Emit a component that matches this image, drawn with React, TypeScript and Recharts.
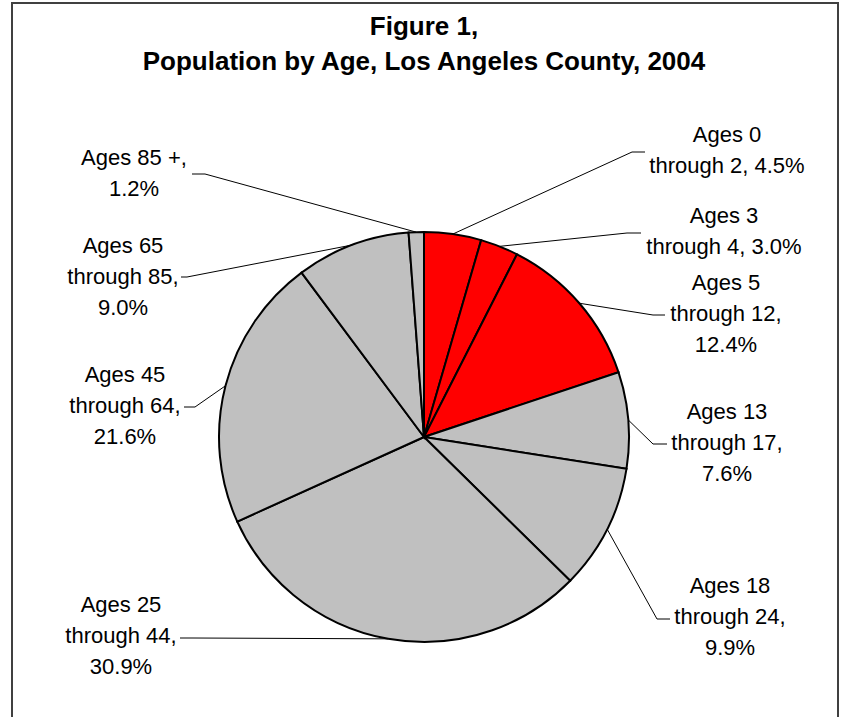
import React from "react";
import { PieChart, Pie, Cell } from "recharts";

// ---- data ----
const categories: string[] = [
  "Ages 0 through 2",
  "Ages 3 through 4",
  "Ages 5 through 12",
  "Ages 13 through 17",
  "Ages 18 through 24",
  "Ages 25 through 44",
  "Ages 45 through 64",
  "Ages 65 through 85",
  "Ages 85 +",
];
const shares: number[] = [4.5, 3.0, 12.4, 7.6, 9.9, 30.9, 21.6, 9.0, 1.2];
const labelTexts: string[][] = [
  ["Ages 0", "through 2, 4.5%"],
  ["Ages 3", "through 4, 3.0%"],
  ["Ages 5", "through 12,", "12.4%"],
  ["Ages 13", "through 17,", "7.6%"],
  ["Ages 18", "through 24,", "9.9%"],
  ["Ages 25", "through 44,", "30.9%"],
  ["Ages 45", "through 64,", "21.6%"],
  ["Ages 65", "through 85,", "9.0%"],
  ["Ages 85 +,", "1.2%"],
];
const highlighted: boolean[] = [true, true, true, false, false, false, false, false, false];

const titleLines: string[] = ["Figure 1,", "Population by Age, Los Angeles County, 2004"];

// ---- layout / style (not data) ----
const RED = "#FF0000";
const GRAY = "#C0C0C0";
const FONT = "'Liberation Sans', Arial, Helvetica, sans-serif";
const LINE_H = 31;
// label anchor: x = text centre, y = first baseline, ex/ey = elbow, tx = end of leader
const labelLayout = [
  { x: 727, y: 142, ex: 632, ey: 152, tx: 645 },
  { x: 724, y: 223, ex: 627, ey: 233, tx: 641 },
  { x: 726, y: 290, ex: 653, ey: 315, tx: 665 },
  { x: 727, y: 419, ex: 653, ey: 444, tx: 667 },
  { x: 730, y: 593, ex: 657, ey: 619, tx: 670 },
  { x: 121, y: 612, ex: 192, ey: 638, tx: 180 },
  { x: 125, y: 382, ex: 195, ey: 407, tx: 184 },
  { x: 123, y: 253, ex: 187, ey: 277, tx: 181 },
  { x: 134, y: 165, ex: 205, ey: 174, tx: 192 },
];

const chartData = categories.map((name, i) => ({ name, value: shares[i] }));

const RAD = Math.PI / 180;

const renderLabel = (props: any) => {
  const { cx, cy, midAngle, outerRadius, index } = props;
  const L = labelLayout[index];
  const px = cx + outerRadius * Math.cos(-midAngle * RAD);
  const py = cy + outerRadius * Math.sin(-midAngle * RAD);
  const lines = labelTexts[index];
  return (
    <g key={`lbl-${index}`}>
      <polyline
        points={`${px},${py} ${L.ex},${L.ey} ${L.tx},${L.ey}`}
        fill="none"
        stroke="#000"
        strokeWidth={1}
      />
      <text
        x={L.x}
        y={L.y}
        textAnchor="middle"
        fontFamily={FONT}
        fontSize={22}
        fill="#000"
      >
        {lines.map((t, j) => (
          <tspan key={j} x={L.x} y={L.y + j * LINE_H}>
            {t}
          </tspan>
        ))}
      </text>
    </g>
  );
};

export default function App() {
  return (
    <div
      style={{
        position: "absolute",
        left: 0,
        top: 0,
        width: 841,
        height: 717,
        background: "#fff",
        overflow: "hidden",
      }}
    >
      <div
        style={{
          position: "absolute",
          left: 11,
          top: 2,
          width: 828,
          height: 740,
          border: "2px solid #404040",
          boxSizing: "border-box",
        }}
      />
      <div
        style={{
          position: "absolute",
          left: 0,
          top: 9,
          width: 848,
          textAlign: "center",
          fontFamily: FONT,
          fontWeight: "bold",
          fontSize: 26,
          lineHeight: "35px",
          color: "#000",
        }}
      >
        {titleLines.map((t, i) => (
          <div key={i}>{t}</div>
        ))}
      </div>
      <div style={{ position: "absolute", left: 0, top: 0 }}>
        <PieChart width={841} height={717} margin={{ top: 0, right: 0, bottom: 0, left: 0 }}>
          <Pie
            data={chartData}
            dataKey="value"
            nameKey="name"
            cx={424}
            cy={437}
            outerRadius={205}
            startAngle={90}
            endAngle={-270}
            stroke="#000"
            strokeWidth={2}
            label={renderLabel}
            labelLine={false}
            isAnimationActive={false}
          >
            {chartData.map((d, i) => (
              <Cell key={d.name} fill={highlighted[i] ? RED : GRAY} stroke="#000" strokeWidth={2} />
            ))}
          </Pie>
        </PieChart>
      </div>
    </div>
  );
}
